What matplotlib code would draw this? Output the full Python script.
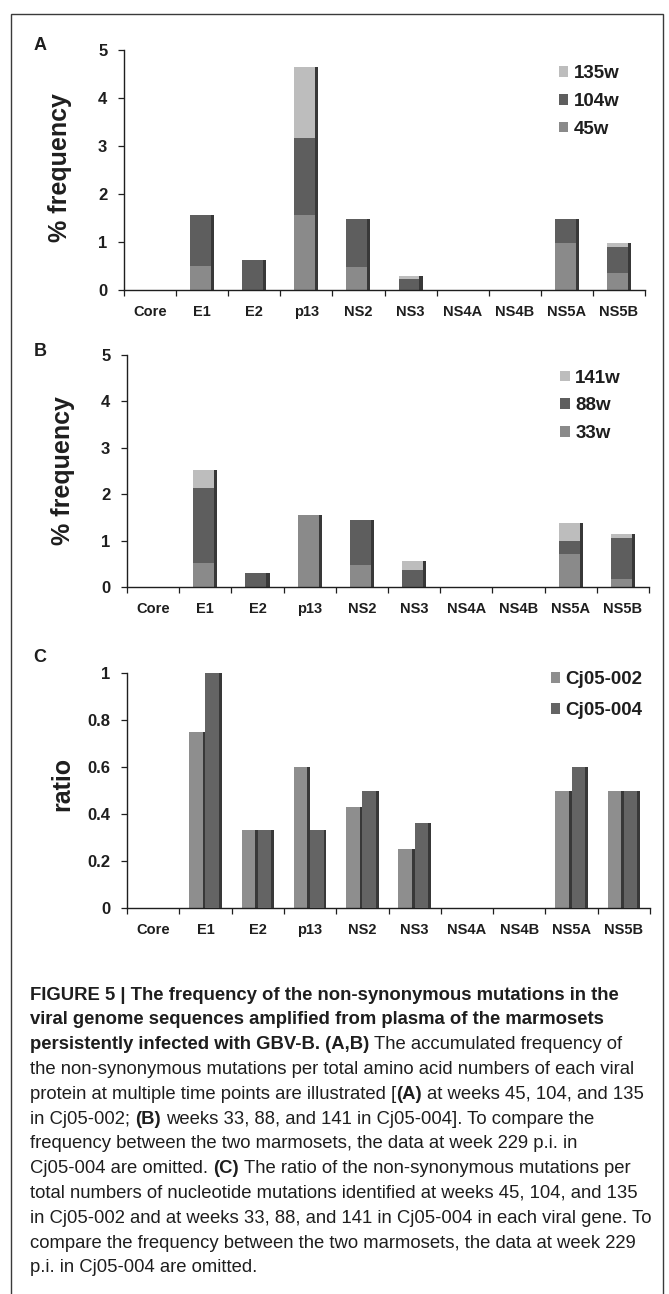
# IMPORTS
import numpy as np
import matplotlib
matplotlib.use("Agg")
import matplotlib.pyplot as plt
from matplotlib.patches import Patch, Rectangle
from matplotlib import font_manager


# DATA
genes = ["Core", "E1", "E2", "p13", "NS2", "NS3", "NS4A", "NS4B", "NS5A", "NS5B"]

# panel A (Cj05-002), stacked increments of % frequency
a_labels = ["45w", "104w", "135w"]
a_45w = [0, 0.50, 0, 1.56, 0.48, 0, 0, 0, 0.98, 0.35]
a_104w = [0, 1.06, 0.62, 1.60, 0.99, 0.22, 0, 0, 0.49, 0.54]
a_135w = [0, 0, 0, 1.48, 0, 0.07, 0, 0, 0, 0.09]

# panel B (Cj05-004), stacked increments of % frequency
b_labels = ["33w", "88w", "141w"]
b_33w = [0, 0.52, 0, 1.56, 0.48, 0, 0, 0, 0.72, 0.17]
b_88w = [0, 1.61, 0.30, 0, 0.97, 0.36, 0, 0, 0.28, 0.89]
b_141w = [0, 0.39, 0, 0, 0, 0.20, 0, 0, 0.38, 0.08]

# panel C, ratio
c_labels = ["Cj05-002", "Cj05-004"]
c_002 = [0, 0.75, 0.33, 0.60, 0.43, 0.25, 0, 0, 0.50, 0.50]
c_004 = [0, 1.00, 0.33, 0.33, 0.50, 0.36, 0, 0, 0.60, 0.50]

stack_colors = ["#8a8a8a", "#5e5e5e", "#bdbdbd"]
pair_colors = ["#8e8e8e", "#646464"]
strip_color = "#383838"
ink = "#1e1e1e"

W, H = 669, 1294
fig = plt.figure(figsize=(W / 100, H / 100), dpi=100)
fig.patch.set_facecolor("white")

chart_font = ["Liberation Sans", "DejaVu Sans"]


def px_axes(left, right, top, bottom):
    return fig.add_axes([left / W, 1 - bottom / H, (right - left) / W, (bottom - top) / H])


def style_axes(ax, ymax, yticks, yticklabels, ylabel, ylabel_y):
    x = np.arange(len(genes))
    ax.set_xlim(0, len(genes))
    ax.set_ylim(0, ymax)
    for s in ["top", "right"]:
        ax.spines[s].set_visible(False)
    for s in ["left", "bottom"]:
        ax.spines[s].set_color(ink)
        ax.spines[s].set_linewidth(1.0)
    ax.set_xticks(np.arange(len(genes) + 1))
    ax.set_xticklabels([])
    ax.set_xticks(x + 0.5, minor=True)
    ax.set_xticklabels(genes, minor=True, fontsize=10.5, fontweight="bold",
                       family=chart_font, color=ink)
    ax.tick_params(axis="x", which="major", direction="out", length=4, width=0.9, color=ink)
    ax.tick_params(axis="x", which="minor", length=0, pad=11)
    ax.set_yticks(yticks)
    ax.set_yticklabels(yticklabels, fontsize=12, fontweight="bold", family=chart_font, color=ink)
    ax.tick_params(axis="y", direction="out", length=4, width=0.9, color=ink, pad=8)
    ax.set_ylabel(ylabel, fontsize=18, fontweight="bold", family=chart_font, color=ink, va="center")
    ax.yaxis.set_label_coords(-0.123, ylabel_y)
    ax.patch.set_alpha(0)


def stacked_panel(ax, series, labels, legend_anchor):
    x = np.arange(len(genes)) + 0.5
    width = 0.46
    strip = 0.06
    bottom = np.zeros(len(genes))
    handles = []
    for vals, lab, col in zip(series, labels, stack_colors):
        vals = np.array(vals, dtype=float)
        ax.bar(x - strip / 2, vals, width=width - strip, bottom=bottom, color=col,
               edgecolor="none", zorder=2)
        bottom = bottom + vals
        handles.append(Patch(facecolor=col, edgecolor="none", label=lab))
    mask = bottom > 0
    ax.bar(x[mask] + width / 2 - strip / 2, bottom[mask], width=strip, color=strip_color,
           edgecolor="none", zorder=2)
    leg = ax.legend(handles[::-1], labels[::-1], loc="upper left", bbox_to_anchor=legend_anchor,
                    frameon=False, handlelength=0.5, handleheight=0.5, handletextpad=0.3,
                    labelspacing=0.57, borderpad=0, borderaxespad=0,
                    prop={"family": chart_font, "weight": "bold", "size": 13.5})
    for t in leg.get_texts():
        t.set_color(ink)


# PANEL A
ax_a = px_axes(124, 645, 49.5, 290)
stacked_panel(ax_a, [a_45w, a_104w, a_135w], a_labels, (0.835, 0.935))
style_axes(ax_a, 5, range(6), [str(v) for v in range(6)], "% frequency", 0.51)

# PANEL B
ax_b = px_axes(127, 649, 355, 587)
stacked_panel(ax_b, [b_33w, b_88w, b_141w], b_labels, (0.83, 0.937))
style_axes(ax_b, 5, range(6), [str(v) for v in range(6)], "% frequency", 0.5)

# PANEL C
ax_c = px_axes(127, 650, 673, 908)
xc = np.arange(len(genes)) + 0.5
bw = 0.31
strip = 0.05
c_handles = []
for k, (vals, lab, col) in enumerate(zip([c_002, c_004], c_labels, pair_colors)):
    vals = np.array(vals, dtype=float)
    pos = xc + (k - 0.5) * bw
    ax_c.bar(pos - strip / 2, vals, width=bw - strip, color=col, edgecolor="none", zorder=2 + k)
    m = vals > 0
    ax_c.bar(pos[m] + bw / 2 - strip / 2, vals[m], width=strip, color=strip_color,
             edgecolor="none", zorder=2 + k)
    c_handles.append(Patch(facecolor=col, edgecolor="none", label=lab))
leg_c = ax_c.legend(c_handles, c_labels, loc="upper left", bbox_to_anchor=(0.81, 1.009),
                    frameon=False, handlelength=0.5, handleheight=0.5, handletextpad=0.3,
                    labelspacing=0.76, borderpad=0, borderaxespad=0,
                    prop={"family": chart_font, "weight": "bold", "size": 13.5})
for t in leg_c.get_texts():
    t.set_color(ink)
style_axes(ax_c, 1, [0, 0.2, 0.4, 0.6, 0.8, 1.0], ["0", "0.2", "0.4", "0.6", "0.8", "1"],
           "ratio", 0.53)

# PANEL LETTERS
for letter, ypx in [("A", 45), ("B", 352), ("C", 658)]:
    fig.text(40 / W, 1 - ypx / H, letter, fontsize=13, fontweight="bold", family=chart_font,
             color=ink, ha="center", va="center")

# OUTER FRAME
fig.patches.append(Rectangle((11 / W, -0.02), (663 - 11) / W, 1.02 - 14 / H,
                             transform=fig.transFigure, fill=False, edgecolor="#3a3a3a",
                             linewidth=1.0))


# CAPTION
names = {f.name for f in font_manager.fontManager.ttflist}
if "Liberation Sans Narrow" in names:
    cap_family = ["Liberation Sans Narrow", "Liberation Sans", "DejaVu Sans"]
else:
    cap_family = ["Liberation Sans", "DejaVu Sans"]

renderer = fig.canvas.get_renderer()


def text_width(s, size, weight):
    t = fig.text(0, 0, s, fontsize=size, fontweight=weight, family=cap_family)
    w = t.get_window_extent(renderer).width
    t.remove()
    return w


# fit the caption font so a full regular line spans the text block
ref_line = "the non-synonymous mutations per total amino acid numbers of each viral"
cap_size = 12 * 610 / text_width(ref_line, 12, "normal")

caption_lines = [
    [("FIGURE 5 | The frequency of the non-synonymous mutations in the", True)],
    [("viral genome sequences amplified from plasma of the marmosets", True)],
    [("persistently infected with GBV-B. (A,B)", True), ("The accumulated frequency of", False)],
    [("the non-synonymous mutations per total amino acid numbers of each viral", False)],
    [("protein at multiple time points are illustrated [", False), ("(A)", True),
     ("at weeks 45, 104, and 135", False)],
    [("in Cj05-002;", False), ("(B)", True), ("weeks 33, 88, and 141 in Cj05-004]. To compare the", False)],
    [("frequency between the two marmosets, the data at week 229 p.i. in", False)],
    [("Cj05-004 are omitted.", False), ("(C)", True), ("The ratio of the non-synonymous mutations per", False)],
    [("total numbers of nucleotide mutations identified at weeks 45, 104, and 135", False)],
    [("in Cj05-002 and at weeks 33, 88, and 141 in Cj05-004 in each viral gene. To", False)],
    [("compare the frequency between the two marmosets, the data at week 229", False)],
    [("p.i. in Cj05-004 are omitted.", False)],
]
space_w = text_width("x x", cap_size, "normal") - text_width("xx", cap_size, "normal")

y0, step = 995, 24.8
for i, runs in enumerate(caption_lines):
    ypx = y0 + i * step
    xpx = 30
    for j, (txt, bold) in enumerate(runs):
        if j > 0 and not runs[j - 1][0].endswith("["):
            xpx += space_w
        t = fig.text(xpx / W, 1 - ypx / H, txt, fontsize=cap_size,
                     fontweight="bold" if bold else "normal", family=cap_family,
                     color=ink, ha="left", va="center")
        xpx += t.get_window_extent(renderer).width

fig.savefig("out.png", dpi=100)
